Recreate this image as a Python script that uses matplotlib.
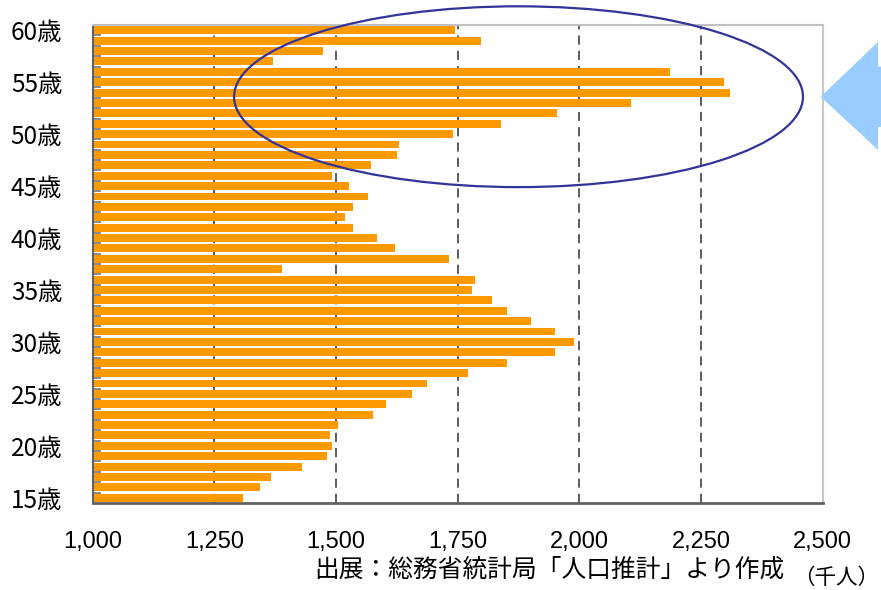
import matplotlib
matplotlib.use("Agg")
import matplotlib.pyplot as plt
from matplotlib.patches import Ellipse, Polygon

plt.rcParams["font.family"] = ["Noto Sans CJK JP", "DejaVu Sans"]

# population by single year of age (thousands), ages 15..60
ages = list(range(15, 61))
population = [1309, 1344, 1366, 1430, 1481, 1492, 1488, 1504, 1576, 1603,
              1656, 1687, 1771, 1851, 1950, 1989, 1950, 1901, 1851, 1820,
              1779, 1786, 1389, 1732, 1621, 1584, 1535, 1518, 1535, 1566,
              1527, 1492, 1571, 1625, 1629, 1740, 1839, 1954, 2106, 2310,
              2297, 2186, 1370, 1473, 1797, 1744]
label_ages = [15, 20, 25, 30, 35, 40, 45, 50, 55, 60]
x_ticks = [1000, 1250, 1500, 1750, 2000, 2250, 2500]

fig = plt.figure(figsize=(8.81, 5.90), dpi=100)
ax = fig.add_axes([0.1052, 0.1475, 0.8286, 0.8101])

pos = [a - ages[0] for a in ages]
ax.barh(pos, [v - 1000 for v in population], left=1000, height=0.76,
        color="#FF9900", zorder=2)

ax.set_xlim(1000, 2500)
ax.set_ylim(-0.5, len(ages) - 0.5)

# dashed vertical grid
for xv in x_ticks[1:]:
    ax.axvline(xv, color="#303030" if xv < 2500 else "#707070", lw=1.1,
               dashes=(6, 4), zorder=1)

ax.set_xticks(x_ticks)
ax.set_xticklabels([f"{v:,}" for v in x_ticks], fontsize=17,
                   family=["Liberation Sans", "DejaVu Sans"])
ax.tick_params(axis="x", length=0, pad=20)

ax.set_yticks([a - ages[0] for a in label_ages])
ax.set_yticklabels([f"{a}歳" for a in label_ages], fontsize=17.5)
ax.tick_params(axis="y", length=0, pad=22)
# category separators on the left spine
ax.set_yticks([p + 0.5 for p in pos[:-1]], minor=True)
ax.tick_params(axis="y", which="minor", direction="in", length=6,
               width=1.3, color="#808080")

ax.spines["left"].set_color("#606060")
ax.spines["left"].set_linewidth(1.5)
ax.spines["bottom"].set_color("#606060")
ax.spines["bottom"].set_linewidth(2)
ax.spines["top"].set_color("#c0c0c0")
ax.spines["top"].set_linewidth(1.5)
ax.spines["right"].set_color("#c8c8c8")
ax.spines["right"].set_linewidth(1.5)

# highlight around the baby-boom cohort
ax.add_patch(Ellipse((1875, 38.6), width=1169, height=17.4, fill=False,
                     edgecolor="#333399", lw=1.6, clip_on=False, zorder=5))

# pointer arrow at the right edge (figure fraction)
arrow = Polygon([(0.9315, 0.836), (0.9966, 0.929), (0.9966, 0.887), (1.0, 0.887),
                 (1.0, 0.785), (0.9966, 0.785), (0.9966, 0.746)],
                closed=True, transform=fig.transFigure, facecolor="#99CCFF",
                edgecolor="none")
fig.patches.append(arrow)

fig.text(0.357, 0.012, "出展：総務省統計局「人口推計」より作成", fontsize=17.8,
         ha="left", va="bottom")
fig.text(0.998, 0.002, "（千人）", fontsize=15.5, ha="right", va="bottom")

fig.savefig("out.png", dpi=100)
